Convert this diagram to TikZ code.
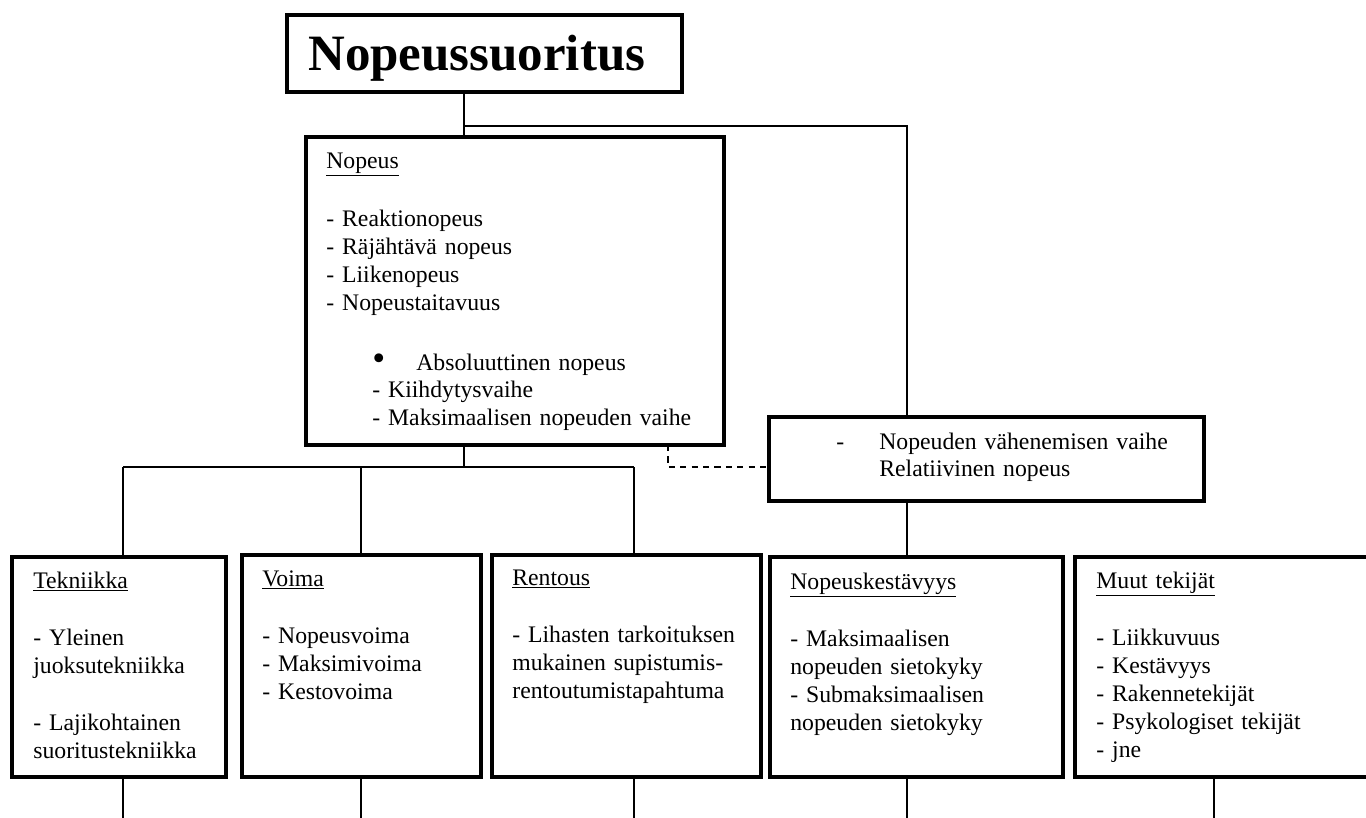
\documentclass[tikz,border=0pt]{standalone}
\usepackage{fontspec}
\setmainfont{Liberation Serif}
\usetikzlibrary{calc}

\begin{document}
\begin{tikzpicture}[
    x=0.02cm, y=-0.02cm,
    every node/.style={font=\fontsize{13.5}{15.9}\selectfont},
    box/.style={draw, line width=2.6pt, anchor=north west, inner sep=0pt, outer sep=0pt},
    txt/.style={anchor=base west, align=left, inner sep=0pt, text width=7.5cm},
    link/.style={line width=0.85pt},
    dashlink/.style={line width=0.85pt, dash pattern=on 3.5pt off 3pt}
]
\useasboundingbox (0,0) rectangle (1366,818);

% top level
\node[box, minimum width=7.9cm, minimum height=1.54cm] (title) at (287,15) {};
\node[txt, font=\fontsize{29}{33}\selectfont\bfseries] (title-t) at (308,70) {Nopeussuoritus};

\node[box, minimum width=8.36cm, minimum height=6.16cm] (nopeus) at (306,137) {};
\node[txt] (nopeus-t) at (326,168) {\underline{Nopeus}\\[17.5pt]
- Reaktionopeus\\
- Räjähtävä nopeus\\
- Liikenopeus\\
- Nopeustaitavuus\\[18pt]
\hspace*{0.92cm}\makebox[0.88cm][l]{\fontsize{21}{15.9}\selectfont\textbullet}Absoluuttinen nopeus\\
\hspace*{0.92cm}- Kiihdytysvaihe\\
\hspace*{0.92cm}- Maksimaalisen nopeuden vaihe};

\node[box, minimum width=8.7cm, minimum height=1.68cm] (rel) at (769,417) {};
\node[txt] (rel-t) at (836,449) {\makebox[0.86cm][l]{-}Nopeuden vähenemisen vaihe\\
\hspace*{0.86cm}Relatiivinen nopeus};

% bottom row
\node[box, minimum width=4.28cm, minimum height=4.4cm] (tek) at (12,557) {};
\node[txt] (tek-t) at (33,588) {\underline{Tekniikka}\\[17pt]
- Yleinen\\
juoksutekniikka\\[16.5pt]
- Lajikohtainen\\
suoritustekniikka};

\node[box, minimum width=4.78cm, minimum height=4.44cm] (voima) at (242,555) {};
\node[txt] (voima-t) at (262,586) {\underline{Voima}\\[17pt]
- Nopeusvoima\\
- Maksimivoima\\
- Kestovoima};

\node[box, minimum width=5.38cm, minimum height=4.44cm] (rentous) at (492,555) {};
\node[txt] (rentous-t) at (512,585) {\underline{Rentous}\\[17pt]
- Lihasten tarkoituksen\\
mukainen supistumis-\\
rentoutumistapahtuma};

\node[box, minimum width=5.86cm, minimum height=4.4cm] (nkest) at (770,557) {};
\node[txt] (nkest-t) at (790,589) {\underline{Nopeuskestävyys}\\[17pt]
- Maksimaalisen\\
nopeuden sietokyky\\
- Submaksimaalisen\\
nopeuden sietokyky};

\node[box, minimum width=6.3cm, minimum height=4.4cm] (muut) at (1075,557) {};
\node[txt] (muut-t) at (1096,588) {\underline{Muut tekijät}\\[17pt]
- Liikkuvuus\\
- Kestävyys\\
- Rakennetekijät\\
- Psykologiset tekijät\\
- jne};

% connectors
\coordinate (j1) at (464,126);
\coordinate (j2) at (907,126);
\coordinate (bus) at (464,467);
\coordinate (b1) at (123,467);
\coordinate (b2) at (361,467);
\coordinate (b3) at (634,467);
\coordinate (d1) at (668,467);

\draw[link] (j1 |- title.south) -- (j1 |- nopeus.north);
\draw[link] (j1) -- (j2) -- (j2 |- rel.north);
\draw[link] (bus |- nopeus.south) -- (bus);
\draw[link] (b1) -- (b3);
\draw[link] (b1) -- (b1 |- tek.north);
\draw[link] (b2) -- (b2 |- voima.north);
\draw[link] (b3) -- (b3 |- rentous.north);
\draw[dashlink] (d1 |- nopeus.south) -- (d1) -- (d1 -| rel.west);
\draw[link] (j2 |- rel.south) -- (j2 |- nkest.north);

% tails below the bottom row
\coordinate (e1) at (123,818);
\coordinate (e2) at (361,818);
\coordinate (e3) at (634,818);
\coordinate (e4) at (907,818);
\coordinate (e5) at (1214,818);
\draw[link] (e1 |- tek.south) -- (e1);
\draw[link] (e2 |- voima.south) -- (e2);
\draw[link] (e3 |- rentous.south) -- (e3);
\draw[link] (e4 |- nkest.south) -- (e4);
\draw[link] (e5 |- muut.south) -- (e5);

\end{tikzpicture}
\end{document}
